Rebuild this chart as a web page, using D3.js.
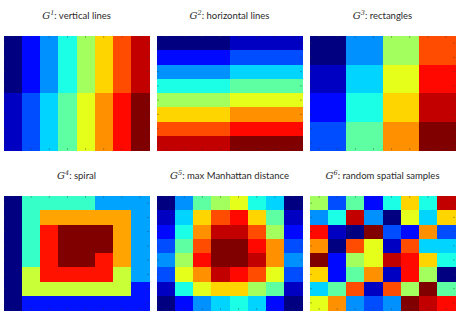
<!DOCTYPE html>
<html lang="en">
<head>
    <meta charset="UTF-8">
    <title>Spatial patterns</title>
    <style>
        body { margin: 0; background: #fff; }
        svg { display: block; }
    </style>
</head>
<body>
    <div id="chartContainer"></div>

    <script src="https://d3js.org/d3.v7.min.js"></script>
    <script>
        // 8x8 grids, values (row by row, top to bottom)
        const g1 = [
            [1, 3, 5, 7, 9, 11, 13, 15],
            [1, 3, 5, 7, 9, 11, 13, 15],
            [1, 3, 5, 7, 9, 11, 13, 15],
            [1, 3, 5, 7, 9, 11, 13, 15],
            [2, 4, 6, 8, 10, 12, 14, 16],
            [2, 4, 6, 8, 10, 12, 14, 16],
            [2, 4, 6, 8, 10, 12, 14, 16],
            [2, 4, 6, 8, 10, 12, 14, 16]
        ];
        const g2 = [
            [1, 1, 1, 1, 2, 2, 2, 2],
            [3, 3, 3, 3, 4, 4, 4, 4],
            [5, 5, 5, 5, 6, 6, 6, 6],
            [7, 7, 7, 7, 8, 8, 8, 8],
            [9, 9, 9, 9, 10, 10, 10, 10],
            [11, 11, 11, 11, 12, 12, 12, 12],
            [13, 13, 13, 13, 14, 14, 14, 14],
            [15, 15, 15, 15, 16, 16, 16, 16]
        ];
        const g3 = [
            [1, 1, 5, 5, 9, 9, 13, 13],
            [1, 1, 5, 5, 9, 9, 13, 13],
            [2, 2, 6, 6, 10, 10, 14, 14],
            [2, 2, 6, 6, 10, 10, 14, 14],
            [3, 3, 7, 7, 11, 11, 15, 15],
            [3, 3, 7, 7, 11, 11, 15, 15],
            [4, 4, 8, 8, 12, 12, 16, 16],
            [4, 4, 8, 8, 12, 12, 16, 16]
        ];
        const g4 = [
            [1, 4, 4, 4, 4, 3, 3, 3],
            [1, 4, 6, 6, 6, 6, 6, 3],
            [1, 4, 7, 8, 8, 8, 6, 3],
            [1, 4, 7, 8, 8, 8, 6, 3],
            [1, 4, 7, 8, 8, 7, 6, 3],
            [1, 5, 7, 7, 7, 7, 5, 3],
            [1, 5, 5, 5, 5, 5, 5, 2],
            [1, 2, 2, 2, 2, 2, 2, 2]
        ];
        const g5 = [
            [1, 5, 8, 9, 10, 7, 6, 1],
            [2, 6, 11, 13, 14, 11, 8, 2],
            [3, 7, 12, 15, 15, 13, 9, 3],
            [4, 8, 13, 16, 16, 14, 12, 4],
            [5, 9, 14, 16, 16, 15, 12, 5],
            [4, 10, 12, 15, 14, 13, 10, 4],
            [2, 7, 10, 11, 11, 9, 8, 2],
            [1, 3, 5, 6, 7, 6, 3, 1]
        ];
        const g6 = [
            [9, 4, 8, 3, 7, 11, 7, 15],
            [5, 7, 15, 5, 1, 10, 6, 11],
            [14, 2, 1, 16, 4, 3, 12, 4],
            [12, 1, 13, 10, 2, 13, 6, 6],
            [16, 3, 9, 10, 15, 14, 11, 7],
            [11, 3, 8, 12, 2, 14, 9, 1],
            [6, 8, 13, 2, 13, 9, 16, 8],
            [10, 12, 5, 4, 5, 16, 15, 14]
        ];

        const supers = ["1", "2", "3", "4", "5", "6"];
        const titles = ["vertical lines", "horizontal lines", "rectangles",
                        "spiral", "max Manhattan distance", "random spatial samples"];
        const grids = [g1, g2, g3, g4, g5, g6];

        // MATLAB-style jet colormap
        function jet(t) {
            const c = v => Math.max(0, Math.min(1, v));
            const r = c(1.5 - Math.abs(4 * t - 3));
            const g = c(1.5 - Math.abs(4 * t - 2));
            const b = c(1.5 - Math.abs(4 * t - 1));
            return d3.rgb(r * 255, g * 255, b * 255).formatHex();
        }

        const W = 457, H = 320;
        const panelX = [4, 157, 310];
        const panelY = [36, 196];
        const pw = 145, ph = 114;

        const svg = d3.select("#chartContainer").append("svg")
            .attr("width", W)
            .attr("height", H);

        grids.forEach((grid, k) => {
            const x0 = panelX[k % 3], y0 = panelY[Math.floor(k / 3)];
            const n = grid.length;
            const idx = d3.range(n);

            const x = d3.scaleBand().domain(idx).range([0, pw]);
            const y = d3.scaleBand().domain(idx).range([0, ph]);
            const color = d3.scaleSequential(jet).domain(d3.extent(grid.flat()));

            const g = svg.append("g").attr("transform", `translate(${x0},${y0})`);

            const cells = [];
            grid.forEach((row, i) => row.forEach((v, j) => cells.push({ i, j, v })));

            g.selectAll("rect")
                .data(cells)
                .join("rect")
                    .attr("x", d => x(d.j))
                    .attr("y", d => y(d.i))
                    .attr("width", x.bandwidth() + 0.5)
                    .attr("height", y.bandwidth() + 0.5)
                    .attr("fill", d => color(d.v))
                    .attr("shape-rendering", "crispEdges");

            // small inward tick marks at cell centres, like imagesc
            const tk = 2;
            const ticks = g.append("g")
                .attr("stroke", "#333")
                .attr("stroke-opacity", 0.6)
                .attr("stroke-width", 0.6);
            idx.forEach(j => {
                const cx = x(j) + x.bandwidth() / 2;
                ticks.append("line").attr("x1", cx).attr("x2", cx).attr("y1", 0).attr("y2", tk);
                ticks.append("line").attr("x1", cx).attr("x2", cx).attr("y1", ph).attr("y2", ph - tk);
            });
            idx.forEach(i => {
                const cy = y(i) + y.bandwidth() / 2;
                ticks.append("line").attr("y1", cy).attr("y2", cy).attr("x1", 0).attr("x2", tk);
                ticks.append("line").attr("y1", cy).attr("y2", cy).attr("x1", pw).attr("x2", pw - tk);
            });

            // title: italic G with superscript, then description
            const t = svg.append("text")
                .attr("x", x0 + pw / 2)
                .attr("y", y0 - 17)
                .attr("text-anchor", "middle")
                .attr("fill", "#2a2a2a")
                .style("font-family", "Lato, 'Open Sans', sans-serif")
                .style("font-size", "9.5px");
            t.append("tspan")
                .style("font-family", "'DejaVu Serif', 'Liberation Serif', serif")
                .style("font-style", "italic")
                .style("font-size", "10px")
                .text("G");
            t.append("tspan")
                .attr("dy", -4)
                .style("font-family", "'DejaVu Serif', 'Liberation Serif', serif")
                .style("font-style", "italic")
                .style("font-size", "6.5px")
                .text(supers[k]);
            t.append("tspan")
                .attr("dy", 4)
                .text(": " + titles[k]);
        });
    </script>
</body>
</html>
